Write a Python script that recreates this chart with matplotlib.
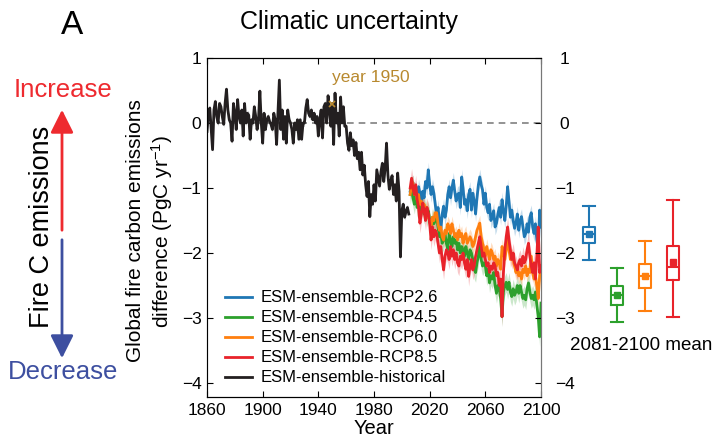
import numpy as np
import matplotlib
matplotlib.use('Agg')
from matplotlib import pyplot as plt

plt.rcParams['font.family'] = ['Liberation Sans', 'DejaVu Sans']
plt.rcParams['mathtext.default'] = 'regular'

# historical ensemble mean, 1860-2005
hist = [
    -0.13, 0.15, 0.23, -0.10, -0.41, 0.20, 0.33, 0.10, 0.00, 0.30,
    0.25, 0.10, -0.02, 0.30, 0.52, 0.20, 0.05, 0.00, -0.28, 0.30,
    0.15, -0.10, 0.36, 0.10, 0.00, 0.20, -0.20, 0.30, 0.00, 0.15,
    0.12, -0.25, 0.05, 0.00, 0.25, 0.10, -0.10, 0.05, 0.49, 0.00,
    -0.31, 0.15, -0.10, 0.05, 0.10, 0.02, -0.02, -0.10, 0.15, 0.05,
    -0.33, 0.15, 0.66, -0.10, 0.20, -0.25, 0.10, -0.31, 0.20, 0.05,
    0.00, -0.10, -0.31, 0.00, -0.10, 0.05, -0.25, 0.05, -0.25, 0.00,
    0.00, 0.23, 0.36, 0.15, 0.10, 0.20, 0.05, 0.15, 0.00, 0.10,
    -0.20, 0.05, 0.20, -0.23, 0.25, 0.30, 0.00, 0.42, 0.20, -0.05,
    0.30, -0.33, 0.46, 0.00, 0.15, -0.20, 0.40, 0.00, 0.25, -0.05,
    -0.05, -0.31, -0.42, -0.15, -0.35, -0.26, -0.50, -0.30, -0.55, -0.45,
    -0.72, -0.45, -0.80, -0.65, -0.95, -1.13, -0.90, -1.44, -1.10, -1.25,
    -0.95, -1.20, -0.72, -0.85, -0.97, -0.75, -0.62, -0.90, -0.70, -0.31,
    -0.80, -1.02, -0.90, -0.81, -1.10, -0.95, -1.20, -0.77, -1.05, -2.06,
    -1.35, -1.25, -1.45, -1.36, -1.30, -1.40,
]

# scenario ensemble means, 2006-2100
rcp26 = [
    -1.05, -0.95, -0.92, -1.10, -1.00, -1.15, -0.98, -1.08, -1.23, -1.05,
    -1.15, -0.90, -1.00, -0.72, -0.95, -1.10, -0.98, -1.08, -1.25, -1.44,
    -1.30, -1.50, -1.65, -1.40, -1.28, -1.45, -1.34, -1.10, -0.98, -1.15,
    -1.00, -0.88, -1.05, -1.20, -1.10, -1.08, -1.30, -0.83, -1.00, -1.25,
    -1.18, -1.35, -1.10, -1.02, -1.34, -1.08, -1.20, -1.40, -1.15, -0.95,
    -0.83, -0.95, -1.03, -1.25, -1.08, -1.30, -1.38, -1.25, -1.50, -1.44,
    -1.35, -1.60, -1.54, -1.40, -1.30, -1.45, -1.18, -1.35, -1.50, -1.28,
    -0.98, -1.20, -1.45, -1.34, -1.50, -1.62, -1.54, -1.40, -1.65, -1.50,
    -1.44, -1.60, -1.75, -1.70, -1.55, -1.68, -1.45, -1.38, -1.60, -1.70,
    -1.55, -1.80, -1.95, -1.34, -1.60,
]
rcp45 = [
    -1.10, -1.00, -1.15, -1.25, -1.10, -1.30, -1.20, -1.40, -1.30, -1.25,
    -1.40, -1.30, -1.45, -1.35, -1.50, -1.62, -1.45, -1.55, -1.50, -1.45,
    -1.60, -1.75, -1.70, -1.85, -1.80, -1.70, -1.85, -1.95, -1.70, -1.80,
    -1.90, -1.75, -1.85, -1.80, -1.95, -1.85, -2.00, -1.90, -1.95, -2.05,
    -1.90, -2.00, -2.10, -1.95, -2.00, -2.10, -2.25, -2.30, -2.15, -2.05,
    -1.85, -2.10, -2.20, -2.15, -2.20, -2.35, -2.25, -2.46, -2.35, -2.40,
    -2.30, -2.50, -2.62, -2.50, -2.55, -2.70, -2.98, -2.60, -2.50, -2.45,
    -2.56, -2.45, -2.60, -2.67, -2.55, -2.65, -2.60, -2.50, -2.62, -2.50,
    -2.60, -2.70, -2.65, -2.72, -2.55, -2.46, -2.60, -2.70, -2.65, -2.72,
    -2.60, -2.80, -2.98, -3.29, -2.77,
]
rcp60 = [
    -1.10, -0.95, -0.92, -1.10, -1.05, -1.18, -1.10, -1.25, -1.20, -1.34,
    -1.25, -1.40, -1.30, -1.45, -1.50, -1.60, -1.45, -1.50, -1.38, -1.38,
    -1.55, -1.65, -1.60, -1.75, -1.80, -1.65, -1.70, -1.55, -1.60, -1.70,
    -1.55, -1.65, -1.75, -1.70, -1.80, -1.65, -1.75, -1.70, -1.85, -1.75,
    -1.70, -1.85, -1.80, -1.75, -1.80, -1.90, -1.85, -1.75, -1.65, -1.60,
    -1.54, -1.75, -1.85, -1.95, -2.05, -1.90, -2.00, -2.10, -1.95, -2.00,
    -2.10, -2.05, -2.20, -2.10, -2.15, -2.25, -1.90, -2.00, -2.10, -1.95,
    -1.80, -1.95, -2.10, -2.05, -2.10, -2.20, -2.30, -2.25, -2.35, -2.30,
    -2.40, -2.25, -2.30, -2.20, -2.35, -2.25, -2.30, -2.05, -2.30, -2.40,
    -2.35, -2.50, -2.70, -2.35, -2.20,
]
rcp85 = [
    -1.00, -0.85, -1.00, -1.10, -0.95, -1.18, -1.30, -1.54, -1.40, -1.23,
    -1.35, -1.50, -1.30, -1.38, -1.55, -1.80, -1.60, -1.75, -1.65, -1.70,
    -1.85, -2.00, -1.90, -2.10, -2.26, -2.05, -1.95, -2.00, -2.10, -1.90,
    -2.05, -1.95, -2.10, -2.00, -2.15, -2.20, -2.05, -2.10, -2.00, -2.15,
    -2.25, -2.10, -2.36, -2.20, -2.10, -2.26, -2.20, -2.05, -1.95, -1.85,
    -1.75, -1.90, -2.05, -2.00, -2.10, -2.20, -2.15, -2.30, -2.20, -2.25,
    -2.15, -2.20, -2.35, -2.30, -2.50, -2.40, -2.98, -2.30, -1.95, -1.75,
    -1.60, -1.80, -1.95, -2.10, -2.00, -2.15, -2.20, -2.26, -2.15, -2.10,
    -2.20, -2.05, -2.15, -2.10, -1.95, -1.85, -2.05, -2.20, -2.30, -2.15,
    -2.40, -2.05, -1.60, -2.30, -2.20,
]

# half-width of the shaded spread around each ensemble mean
hist_spread = 0.05
rcp_spread = [0.12, 0.15, 0.12, 0.15]

# 2081-2100 mean across models (box plots)
box_hi = [-1.27, -2.23, -1.82, -1.18]
box_q3 = [-1.60, -2.51, -2.17, -1.89]
box_med = [-1.71, -2.65, -2.36, -2.22]
box_q1 = [-1.85, -2.80, -2.54, -2.42]
box_lo = [-2.10, -3.06, -2.89, -2.98]
box_mean = [-1.70, -2.65, -2.35, -2.14]

labels = ['ESM-ensemble-RCP2.6', 'ESM-ensemble-RCP4.5',
          'ESM-ensemble-RCP6.0', 'ESM-ensemble-RCP8.5']
colors = ['#1f77b4', '#2ca02c', '#ff7f0e', '#e8232a']
gold = '#b8892f'

yrs_hist = np.arange(1860, 1860 + len(hist))
yrs_fut = np.arange(2006, 2006 + len(rcp26))

fig = plt.figure(figsize=(7.19, 4.44), dpi=100)
ax = fig.add_axes([207 / 719, 1 - 397 / 444, 334 / 719, 339 / 444])

ax.axhline(0, color='#808080', ls=(0, (4, 3)), lw=1.2, zorder=0)

hist_a = np.array(hist)
ax.fill_between(yrs_hist, hist_a - hist_spread, hist_a + hist_spread,
                color='#999999', alpha=0.6, lw=0, zorder=1)
series = [rcp26, rcp45, rcp60, rcp85]
for vals, sp, c, lab in zip(series, rcp_spread, colors, labels):
    v = np.array(vals)
    ax.fill_between(yrs_fut, v - sp, v + sp, color=c, alpha=0.25, lw=0, zorder=2)
    ax.plot(yrs_fut, v, color=c, lw=2, label=lab, zorder=3)
ax.plot(yrs_hist, hist_a, color='#231f20', lw=2, label='ESM-ensemble-historical', zorder=4)

# year 1950 marker
i50 = list(yrs_hist).index(1950)
ax.plot(1950, hist[i50], marker='x', color=gold, ms=5, mew=1.2, zorder=5)
ax.text(1950, 0.70, 'year 1950', color=gold, fontsize=12.5, ha='left', va='center')

ax.set_xlim(1860, 2100)
ax.set_ylim(-4.215, 1.0)
ax.set_xticks(np.arange(1860, 2101, 40))
ax.set_yticks(np.arange(-4, 2, 1))
ax.tick_params(direction='in', labelsize=12.5, top=True, length=4, pad=4)
ax.set_xlabel('Year', fontsize=14.5, labelpad=1)
ax.set_ylabel('Global fire carbon emissions\ndifference (PgC yr$^{-1}$)', fontsize=15)
ax.yaxis.set_label_coords(-0.095, 0.49)
ax.spines['left'].set_color('#777777')
ax.spines['right'].set_color('#777777')

ax2 = ax.twinx()
ax2.set_ylim(ax.get_ylim())
ax2.set_yticks(np.arange(-4, 2, 1))
ax2.tick_params(direction='in', labelsize=12.5, length=4, pad=17)
for t in ax2.get_yticklabels():
    t.set_ha('center')
ax2.spines['right'].set_color('#777777')

leg = ax.legend(loc='lower left', bbox_to_anchor=(0.02, 0.0), frameon=False,
                fontsize=12, handlelength=1.6, handletextpad=0.5,
                labelspacing=0.3, borderaxespad=0.3)

# box plots of the 2081-2100 mean
axb = fig.add_axes([561 / 719, 1 - 397 / 444, 140 / 719, 339 / 444])
axb.set_xlim(0, 5)
axb.set_ylim(ax.get_ylim())
axb.axis('off')
stats = []
for i in range(4):
    stats.append(dict(med=box_med[i], q1=box_q1[i], q3=box_q3[i],
                      whislo=box_lo[i], whishi=box_hi[i], mean=box_mean[i]))
for i, (st, c) in enumerate(zip(stats, colors)):
    axb.bxp([st], positions=[i + 1], widths=0.46, showmeans=True, showfliers=False,
            boxprops=dict(color=c, lw=1.5), whiskerprops=dict(color=c, lw=1.5),
            capprops=dict(color=c, lw=1.5), medianprops=dict(color=c, lw=1.5),
            meanprops=dict(marker='s', markerfacecolor=c, markeredgecolor=c, ms=5),
            capwidths=0.42)
axb.text(2.88, -3.42, '2081-2100 mean', fontsize=13.5, ha='center', va='center')

# left-hand annotation
fig.text(72 / 719, 1 - 25 / 444, 'A', fontsize=24, ha='center', va='center')
fig.text(349 / 719, 1 - 22 / 444, 'Climatic uncertainty', fontsize=18, ha='center', va='center')
fig.text(63 / 719, 1 - 90 / 444, 'Increase', fontsize=18.5, color='#ee2a2f', ha='center', va='center')
fig.text(63 / 719, 1 - 372 / 444, 'Decrease', fontsize=18.5, color='#3d4fa0', ha='center', va='center')
fig.text(42 / 719, 1 - 227 / 444, 'Fire C emissions', fontsize=19.5, rotation=90,
         ha='center', va='center')
fig.add_artist(matplotlib.patches.FancyArrowPatch(
    (62 / 719, 1 - 233 / 444), (62 / 719, 1 - 107 / 444), transform=fig.transFigure,
    arrowstyle='-|>,head_length=0.7,head_width=0.35', mutation_scale=20,
    color='#ee2a2f', lw=2))
fig.add_artist(matplotlib.patches.FancyArrowPatch(
    (62 / 719, 1 - 237 / 444), (62 / 719, 1 - 361 / 444), transform=fig.transFigure,
    arrowstyle='-|>,head_length=0.7,head_width=0.35', mutation_scale=20,
    color='#3d4fa0', lw=2))

fig.savefig('out.png', dpi=100)
